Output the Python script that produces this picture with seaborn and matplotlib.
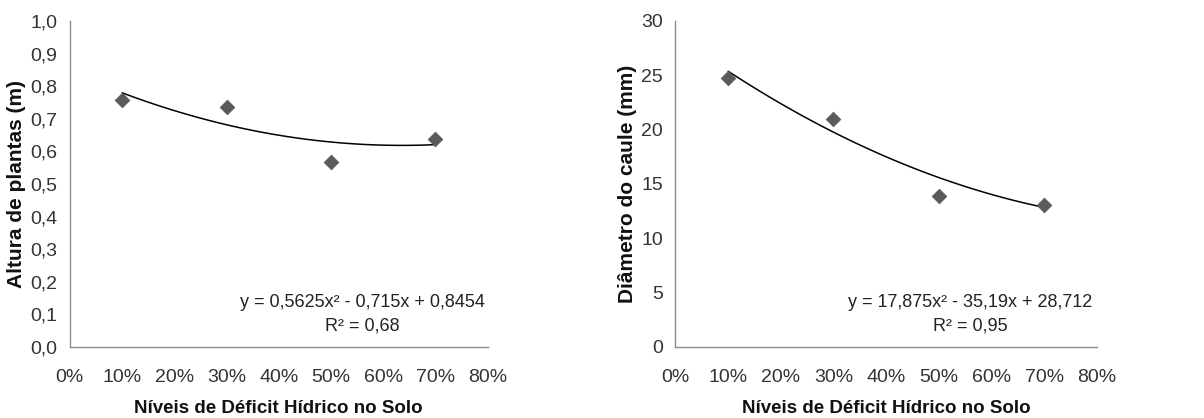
import numpy as np
import pandas as pd
import matplotlib
matplotlib.use("Agg")
import matplotlib.pyplot as plt
import seaborn as sns
from matplotlib.ticker import FuncFormatter

# Water-deficit levels (fraction of soil water deficit)
deficit = [0.10, 0.30, 0.50, 0.70]
# Plant height (m)
altura = [0.757, 0.735, 0.567, 0.638]
# Stem diameter (mm)
diametro = [24.78, 20.98, 13.93, 13.07]

# Quadratic fit coefficients (a, b, c) for y = a x^2 + b x + c
coef_altura = [0.5625, -0.715, 0.8454]
coef_diametro = [17.875, -35.19, 28.712]
eq_altura = "y = 0,5625x² - 0,715x + 0,8454\nR² = 0,68"
eq_diametro = "y = 17,875x² - 35,19x + 28,712\nR² = 0,95"

x_ticks = [0, 0.1, 0.2, 0.3, 0.4, 0.5, 0.6, 0.7, 0.8]

sns.set_theme(style="white")
plt.rcParams["font.family"] = ["Liberation Sans Narrow", "Liberation Sans", "DejaVu Sans"]

fig = plt.figure(figsize=(12.04, 4.18), dpi=100)
ax1 = fig.add_axes([0.058, 0.170, 0.347, 0.780])
ax2 = fig.add_axes([0.561, 0.170, 0.350, 0.780])

axis_grey = "#8c8c8c"
marker_grey = "#5a5a5a"


def draw_panel(ax, y, coef, eq, ylim, yticks, ylabel, yfmt):
    df = pd.DataFrame({"x": deficit, "y": y})
    xf = np.linspace(deficit[0], deficit[-1], 100)
    fit = pd.DataFrame({"x": xf, "y": np.polyval(coef, xf)})
    sns.lineplot(data=fit, x="x", y="y", ax=ax, color="black", lw=1.1)
    sns.scatterplot(data=df, x="x", y="y", ax=ax, marker="D", s=55,
                    color=marker_grey, edgecolor=marker_grey, zorder=3)
    ax.set_xlim(0, 0.8)
    ax.set_ylim(*ylim)
    ax.set_xticks(x_ticks)
    ax.set_yticks(yticks)
    ax.xaxis.set_major_formatter(FuncFormatter(lambda v, p: f"{round(v * 100):d}%"))
    ax.yaxis.set_major_formatter(FuncFormatter(yfmt))
    for s in ["top", "right"]:
        ax.spines[s].set_visible(False)
    for s in ["left", "bottom"]:
        ax.spines[s].set_color(axis_grey)
        ax.spines[s].set_linewidth(1.0)
    ax.tick_params(axis="both", direction="out", length=5, width=1.0,
                   color=axis_grey, labelsize=14, labelcolor="#333333", pad=4)
    ax.tick_params(axis="x", pad=11)
    ax.set_xlabel("Níveis de Déficit Hídrico no Solo", fontsize=13.5,
                  fontweight="bold", labelpad=10, color="#111111")
    ax.set_ylabel(ylabel, fontsize=15, fontweight="bold", labelpad=3, color="#111111")
    ax.text(0.70, 0.10, eq, transform=ax.transAxes, ha="center", va="center",
            fontsize=13, color="#222222", linespacing=1.45)


draw_panel(ax1, altura, coef_altura, eq_altura, (0, 1.0),
           np.round(np.arange(0, 1.01, 0.1), 1), "Altura de plantas (m)",
           lambda v, p: f"{v:.1f}".replace(".", ","))
draw_panel(ax2, diametro, coef_diametro, eq_diametro, (0, 30),
           [0, 5, 10, 15, 20, 25, 30], "Diâmetro do caule (mm)",
           lambda v, p: f"{v:.0f}")

fig.savefig("out.png", dpi=100)
